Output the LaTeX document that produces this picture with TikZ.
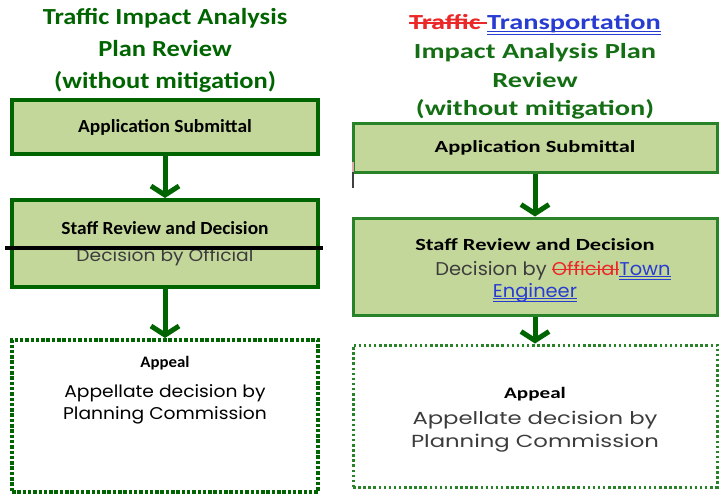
\documentclass[tikz,border=0pt]{standalone}
\usepackage{fontspec}
\usetikzlibrary{positioning,arrows.meta}

\setmainfont{Carlito}
\newfontfamily\leftfont[FakeStretch=1.15]{Carlito}
\newfontfamily\midfont[FakeStretch=1.05]{Carlito}
\newfontfamily\rightfont[FakeStretch=1.32]{Carlito}
\newfontfamily\lgothic[FakeStretch=1.1]{Poppins}
\newfontfamily\mgothic[FakeStretch=1.05]{Poppins}
\newfontfamily\rgothic[FakeStretch=1.3]{Poppins}

\newsavebox\markbox
% struck-out and double underlined words, drawn with rules
\newcommand\strk[1]{\leavevmode\sbox\markbox{#1}%
  \rlap{\rule[0.28em]{\wd\markbox}{0.07em}}\usebox\markbox}
\newcommand\dund[1]{\leavevmode\sbox\markbox{#1}%
  \rlap{\rule[-0.13em]{\wd\markbox}{0.05em}}%
  \rlap{\rule[-0.24em]{\wd\markbox}{0.05em}}\usebox\markbox}

\definecolor{boxfill}{RGB}{196,215,155}
\definecolor{darkgreen}{RGB}{0,100,0}
\definecolor{litegreen}{RGB}{40,130,40}
\definecolor{titlegreen}{RGB}{20,110,20}
\definecolor{delred}{RGB}{235,40,40}
\definecolor{insblue}{RGB}{40,60,210}
\definecolor{bodygray}{RGB}{60,60,60}

% body text of the boxes
\newcommand\lbody{\lgothic\mdseries\fontsize{17}{22}\selectfont\color{bodygray}}
\newcommand\mbody{\mgothic\mdseries\fontsize{18.5}{22}\selectfont\color{bodygray}}
\newcommand\rbody{\rgothic\mdseries\fontsize{17.5}{22}\selectfont\color{bodygray}}

\tikzset{
  leftbox/.style={draw=darkgreen, fill=boxfill, line width=4pt,
    minimum width=306pt, inner sep=0pt, align=center,
    font=\midfont\bfseries\fontsize{18.5}{27}\selectfont},
  rightbox/.style={draw=litegreen, fill=boxfill, line width=3pt,
    minimum width=364pt, inner sep=0pt, align=center,
    font=\rightfont\bfseries\fontsize{17}{24}\selectfont},
  leftappeal/.style={draw=darkgreen, line width=4pt,
    dash pattern=on 3.5pt off 1.8pt, minimum width=306pt},
  rightappeal/.style={draw=litegreen, line width=3pt,
    dash pattern=on 2.5pt off 2.6pt, minimum width=364pt},
  flow/.style={draw=darkgreen, line width=5pt,
    -{Straight Barb[length=9pt,width=28pt,line width=5pt]}},
}

\begin{document}
\begin{tikzpicture}[x=1pt,y=-1pt,node distance=1cm,on grid]
    \useasboundingbox (0,0) rectangle (724,498);
    % left column: the review as it stands
    \node[align=center, text=darkgreen,
      font=\leftfont\bfseries\fontsize{23}{32}\selectfont]
      (lefttitle) at (165,50) {Traffic Impact Analysis\\Plan Review\\(without mitigation)};
    \node[leftbox, minimum height=54pt] (submit) at (165,127) {Application Submittal};
    \node[leftbox, minimum height=87pt] (staff) [below=116.5pt of submit]
      {Staff Review and Decision\\[0pt] \lbody Decision by Official};
    \node[leftappeal, minimum height=152pt] (appeal) [below=172.5pt of staff]
      {};
    \node[align=center, anchor=north, font=\midfont\bfseries\fontsize{16}{22}\selectfont]
      (appealtext) at ([yshift=-15pt]appeal.north)
      {Appeal\\[8pt] \lbody\color{black} Appellate decision by\\
       \lbody\color{black} Planning Commission};
    \coordinate (strikeL) at (5,248);
    \coordinate (strikeR) at (323,248);
    \draw[line width=4pt] (strikeL) -- (strikeR);
    \draw[flow] (submit) -- (staff);
    \draw[flow] (staff) -- (appeal);

    % right column: the proposed change
    \node[align=center, text=titlegreen,
      font=\rightfont\bfseries\fontsize{21.5}{28.7}\selectfont]
      (righttitle) at (535,67)
      {{\color{delred}\strk{Traffic }}{\color{insblue}\dund{Transportation}}\\
       Impact Analysis Plan\\Review\\(without mitigation)};
    \node[rightbox, minimum height=49pt] (rsubmit) at (535,147.5) {Application Submittal};
    \node[rightbox, minimum height=97pt] (rstaff) [below=119pt of rsubmit]
      {\rule{0pt}{19pt}Staff Review and Decision\\[1pt]
       \mbody\hspace{36pt}Decision by {\color{delred}\strk{Official}}{\color{insblue}\dund{Town}}\\[-2pt]
       \mbody {\color{insblue}\dund{Engineer}}};
    \node[rightappeal, minimum height=142pt,
      font=\rightfont\bfseries\fontsize{16}{23}\selectfont, align=center]
      (rappeal) [below=149.5pt of rstaff]
      {\rule{0pt}{18pt}Appeal\\[3pt] \rbody Appellate decision by\\ \rbody Planning Commission};
    \draw[flow] (rsubmit) -- (rstaff);
    \draw[flow] (rstaff) -- (rappeal);
    % stray cursor mark beside the first box
    \coordinate (cursorA) at (353,162);
    \coordinate (cursorB) at (353,172);
    \coordinate (cursorC) at (353,188);
    \draw[line width=1.5pt, pink!70!gray] (cursorA) -- (cursorB);
    \draw[line width=1.5pt, darkgray] (cursorB) -- (cursorC);
\end{tikzpicture}
\end{document}
